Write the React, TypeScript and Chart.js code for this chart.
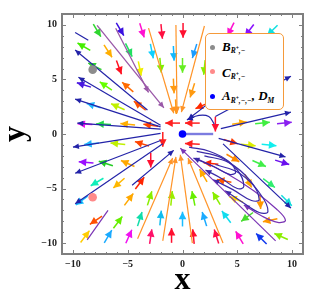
import React, { useEffect, useRef } from 'react';
import { Chart, registerables } from 'chart.js';

Chart.register(...registerables);

// ---------------- data ----------------
const AXIS_MIN = -11;
const AXIS_MAX = 11;
const TICK_VALUES = [-10, -5, 0, 5, 10];
const MINOR_TICKS = [-10, -9, -8, -7, -6, -5, -4, -3, -2, -1, 0, 1, 2, 3, 4, 5, 6, 7, 8, 9, 10];

// critical points
const pointNames = ['A', 'B', 'C'];
const pointX = [0, -8.2, -8.2];
const pointY = [0, 5.9, -5.8];

// field arrows: centre and direction
const arrowX = [
  -7.8, -5.7, -3.7, -1.9, 0.05, 4.4, 6.1, 8.2,
  -9.0, -6.8, -4.9, -2.8, -0.8, 1.1,
  -8.0, -5.8, -3.9, -2.0, 0.0, 2.0,
  -9.0, -7.0, -5.0, -0.8, -0.6, 0.9, 1.8,
  -8.1, -5.9, -3.9,
  -8.9, -7.2, -5.0, -2.9, -0.9, 0.9, 3.0, 5.2, 7.3, 9.3,
  -1.8, 0.9, 4.4,
  6.0, 7.9, 4.6, 2.6, 7.0, 9.1, 3.8, 6.0, 7.9, 4.9, 7.1, 9.5, 5.9, 8.0, 9.0, 7.2, 5.2, 3.1, 1.0, 4.0, 2.0, 0.0, 1.0, 3.1, 1.9,
  -8.3, -5.9, -3.7, -2.9, -8.8, -7.0, -5.0, -7.8, -5.8, -3.9, -9.2, -4.9, -3.0, -1.0, -7.9, -5.9, -3.9, -2.0, -8.9, -6.8, -4.9, -2.9, -1.0,
];
const arrowY = [
  9.5, 9.6, 9.5, 9.4, 9.5, 9.6, 9.5, 9.5,
  8.0, 7.6, 7.7, 7.6, 7.4, 7.6,
  6.2, 6.1, 6.0, 6.3, 6.3, 6.1,
  4.5, 4.4, 4.3, 4.4, 2.5, 4.0, 2.6,
  2.6, 2.5, 2.6,
  0.9, 0.9, 0.9, 0.8, 1.0, 1.0, 0.9, 1.0, 1.0, 1.0,
  -0.5, -0.9, -0.7,
  -1.0, -1.0, -2.2, -2.7, -2.7, -2.6, -4.3, -4.3, -4.5, -6.0, -6.2, -6.1, -7.6, -7.9, -9.4, -9.6, -9.5, -9.4, -9.4, -7.6, -7.8, -7.8, -5.9, -5.9, -3.8,
  -0.9, -0.9, -0.9, -2.4, -2.6, -2.7, -2.7, -4.4, -4.5, -4.5, -6.1, -6.0, -5.9, -5.9, -7.9, -8.1, -7.8, -7.7, -9.4, -9.4, -9.4, -9.4, -9.3,
];
const arrowU = [
  0.5, 0.5, 0.3, 0.1, 0, -0.45, -0.6, -0.7,
  -0.85, 0.55, 0.45, 0.2, 0.05, -0.3,
  -0.9, 0.35, 0.2, 0.1, 0, -0.1,
  -0.95, -0.8, -0.75, 0.05, 0.05, -0.3, -0.9,
  -0.95, -0.9, -0.8,
  -1, -1, -1, -1, -1, -1, 0, 1, 1, 1,
  0, -1, 0.95,
  1, 1, 0.85, -1, 0.9, 0.95, -1, 0.45, 0.8, -0.9, 0.05, 0.7, -0.8, -0.95, -0.9, -0.7, -0.5, -0.3, -0.1, -0.6, -0.3, 0, -0.2, -0.5, -0.5,
  -1, -1, -0.95, 0, -1, -0.95, -0.9, -0.85, -0.75, 0.6, -0.8, 0.6, 0.3, 0.1, -0.8, 0.6, 0.3, 0.1, 0.6, 0.5, 0.4, 0.15, 0,
];
const arrowV = [
  -0.85, -0.85, -0.95, -1, -1, -0.9, -0.8, -0.7,
  0.5, -0.85, -0.9, -1, -1, -0.95,
  0.45, -0.95, -1, -1, -1, -1,
  0.3, 0.55, 0.65, -1, -1, -0.95, -0.4,
  0.3, 0.4, 0.6,
  0.05, 0.05, 0.1, 0.15, 0, 0, -1, 0.15, 0.1, 0.1,
  -1, 0.05, -0.3,
  -0.1, -0.1, -0.5, 0.1, -0.4, -0.3, 0.2, -0.9, -0.6, 0.35, -1, -0.7, -0.6, -0.2, 0.4, 0.7, 0.85, 0.95, 1, 0.8, 0.95, 1, 0.98, 0.85, 0.85,
  -0.1, 0.1, 0.3, -1, 0.1, 0.3, 0.4, -0.5, -0.65, 0.8, -0.6, 0.8, 0.95, 1, -0.55, 0.8, 0.95, 1, 0.8, 0.85, 0.9, 1, 1,
];

// streamlines
const streamX = [
  [-3.2, -9.8], [-2.0, -9.5], [-2.0, -9.8], [-2.0, -9.6], [-8.6, -9.8],
  [-2.0, -10.0], [-2.0, -9.8], [-1.8, -9.8], [-4.6, -0.8],
  [3.3, 9.4], [3.7, 9.9], [3.5, 9.9], [3.0, 9.9], [4.5, 2.1, 0.5], [2.9, 2.4, 1.5, 0.4],
  [-7.8, -1.7], [-6.1, -3.1], [8.5, -0.2], [-8.7, -6.8],
  [-3.1, -0.8], [-0.6, -0.5], [2.0, -0.1], [-4.1, -0.9], [-1.8, -0.6], [0.9, -0.2], [3.7, 0.5],
  [2.8, 0.3],
  [0.6, 2.5, 4.2, 4.85, 4.3, 2.9, 1.0],
  [1.3, 3.4, 5.0, 5.6, 5.0, 3.6, 2.1],
  [2.0, 4.2, 6.2, 7.0, 6.3, 4.6, 2.8],
  [3.0, 5.2, 7.1, 7.8, 7.0, 5.4, 3.9],
  [1.2, 4.0, 6.5, 8.6, 9.4, 8.7, 7.2, 5.6],
];
const streamY = [
  [2.2, 7.7], [0.8, 5.2], [0.65, 3.2], [0.45, 1.0], [8.6, 9.3],
  [0.05, -1.2], [-0.6, -3.6], [-0.9, -6.4], [-4.7, -1.5],
  [-0.4, -2.1], [-0.9, -6.8], [0.5, 2.0], [1.6, 5.3], [4.8, 2.6, 1.35], [0.9, 1.6, 1.7, 1.3],
  [9.95, 2.4], [9.7, 3.8], [-9.8, -1.3], [-9.7, -7.0],
  [9.7, 1.9], [10.0, 1.9], [9.9, 2.0], [-9.6, -2.2], [-9.8, -2.1], [-10.0, -1.9], [-10.0, -2.2],
  [0, 0],
  [-1.2, -1.6, -2.5, -3.5, -3.7, -3.0, -2.2],
  [-1.6, -2.1, -3.3, -4.8, -5.0, -4.1, -3.3],
  [-2.0, -2.6, -4.3, -6.0, -6.1, -5.1, -4.2],
  [-2.8, -3.6, -5.5, -7.1, -7.2, -6.2, -5.2],
  [-2.2, -3.6, -5.2, -6.9, -7.9, -8.1, -7.5, -6.5],
];
const streamKind = [
  'blue', 'blue', 'blue', 'blue', 'blue',
  'blue', 'blue', 'blue', 'blue',
  'blue', 'blue', 'blue', 'blue', 'blue', 'blue',
  'mauve', 'mauve', 'violet', 'violet',
  'orange', 'orange', 'orange', 'orange', 'orange', 'orange', 'orange',
  'pale',
  'indigo', 'indigo', 'indigo', 'indigo', 'violet',
];
const streamHead = [
  true, true, true, true, false,
  true, true, true, true,
  true, true, true, true, true, true,
  true, true, true, false,
  true, true, true, true, true, true, true,
  false,
  true, true, true, true, true,
];

// ---------------- styles ----------------
const ARROW_COLORS = [
  '#2fd62f', '#3a10e0', '#ff10d0', '#ff1040', '#ff1030', '#ff10d0', '#8a10ff', '#10e0e0',
  '#44ee00', '#ffae00', '#20e060', '#10d0ff', '#10b8ff', '#1a9cff',
  '#30d030', '#ff1020', '#f0f000', '#80ee00', '#66ee20', '#88ee00',
  '#4a18e0', '#66ff00', '#ff6a00', '#ff9a10', '#ff9a10', '#ff9a10', '#ff2a00',
  '#20b8ff', '#c0f000', '#ff5000',
  '#f010f0', '#20d848', '#ffae00', '#ff4000', '#ff2020', '#ff2020', '#ff1030', '#ffa800', '#40ee40', '#8a20f0',
  '#ff2020', '#ff2020', '#ff3a00',
  '#dcee00', '#10eeee', '#ff8a00', '#ff2400', '#40ee48', '#6a10ee', '#ff5800', '#ffa800', '#30ee70', '#ffdc00', '#ff9800', '#10dcdc', '#48dc30', '#ff9800', '#8aee00', '#1038ee', '#ff10d0', '#ff1048', '#ff1030', '#10dcee', '#1aaaff', '#1abcff', '#66ee00', '#8aee00', '#ffa800',
  '#20b8ff', '#c0f000', '#ff4400', '#ff1030', '#9a10ff', '#22cc22', '#ffa800', '#10eebb', '#ffb800', '#ff2400', '#10bcff', '#ffa800', '#8aee00', '#9aee00', '#ff5000', '#66ee00', '#10ddaa', '#10bcee', '#ffcc00', '#1aaaff', '#f010f0', '#ff1068', '#ff1030',
];
const STREAM_STYLE: Record<string, { color: string; width: number }> = {
  blue: { color: '#2323a8', width: 1.2 },
  mauve: { color: '#9a58a8', width: 1.3 },
  violet: { color: '#7a34b4', width: 1.2 },
  orange: { color: '#ff9428', width: 1.2 },
  pale: { color: '#7c7ce0', width: 2.4 },
  indigo: { color: '#3a2aa8', width: 1.2 },
};
const POINT_COLORS = ['#0000ff', '#8c8c8c', '#ff8a8a'];
const POINT_RADIUS = [3.8, 4.3, 4.3];
const ARROW_LEN = 1.35;
const FONT = '"Liberation Serif", "Times New Roman", serif';
const FRAME_COLOR = '#7f7f7f';

const fmt = (v: number) => (v < 0 ? '\u2212' + Math.abs(v) : String(v));

export default function App() {
  const ref = useRef<HTMLCanvasElement>(null);

  useEffect(() => {
    const canvas = ref.current!;
    const heads: ({ len: number; half: number; color: string } | null)[] = [];
    const datasets: any[] = [];

    for (let i = 0; i < pointX.length; i++) {
      datasets.push({
        label: pointNames[i],
        data: [{ x: pointX[i], y: pointY[i] }],
        pointRadius: POINT_RADIUS[i],
        pointBackgroundColor: POINT_COLORS[i],
        pointBorderWidth: 0,
        showLine: false,
      });
      heads.push(null);
    }
    for (let i = 0; i < streamX.length; i++) {
      const st = STREAM_STYLE[streamKind[i]];
      datasets.push({
        data: streamX[i].map((x, j) => ({ x, y: streamY[i][j] })),
        showLine: true,
        borderColor: st.color,
        borderWidth: st.width,
        pointRadius: 0,
        tension: streamX[i].length > 2 ? 0.4 : 0,
      });
      heads.push(streamHead[i] ? { len: 6, half: 2.8, color: st.color } : null);
    }
    for (let i = 0; i < arrowX.length; i++) {
      const n = Math.hypot(arrowU[i], arrowV[i]) || 1;
      const hx = (arrowU[i] / n) * ARROW_LEN / 2;
      const hy = (arrowV[i] / n) * ARROW_LEN / 2;
      datasets.push({
        data: [
          { x: arrowX[i] - hx, y: arrowY[i] - hy },
          { x: arrowX[i] + hx, y: arrowY[i] + hy },
        ],
        showLine: true,
        borderColor: ARROW_COLORS[i],
        borderWidth: 1.5,
        pointRadius: 0,
      });
      heads.push({ len: 7.5, half: 3.8, color: ARROW_COLORS[i] });
    }

    const headPlugin = {
      id: 'heads',
      afterDatasetDraw(chart: any, args: any) {
        const h = heads[args.index];
        if (!h) return;
        const pts = args.meta.data as any[];
        const n = pts.length;
        if (n < 2) return;
        const p = pts[n - 1];
        let qx = pts[n - 2].x;
        let qy = pts[n - 2].y;
        if (p.cp1x !== undefined && Math.hypot(p.x - p.cp1x, p.y - p.cp1y) > 0.5) {
          qx = p.cp1x;
          qy = p.cp1y;
        }
        const a = Math.atan2(p.y - qy, p.x - qx);
        const ctx = chart.ctx;
        const ca = chart.chartArea;
        ctx.save();
        ctx.beginPath();
        ctx.rect(ca.left, ca.top, ca.right - ca.left, ca.bottom - ca.top);
        ctx.clip();
        ctx.translate(p.x, p.y);
        ctx.rotate(a);
        ctx.beginPath();
        ctx.moveTo(0, 0);
        ctx.lineTo(-h.len, h.half);
        ctx.lineTo(-h.len, -h.half);
        ctx.closePath();
        ctx.fillStyle = h.color;
        ctx.fill();
        ctx.restore();
      },
    };

    const framePlugin = {
      id: 'frame',
      afterDraw(chart: any) {
        const ctx = chart.ctx;
        const { left, right, top, bottom } = chart.chartArea;
        const sx = chart.scales.x;
        const sy = chart.scales.y;
        ctx.save();
        ctx.strokeStyle = FRAME_COLOR;
        ctx.lineWidth = 1;
        ctx.beginPath();
        for (const v of MINOR_TICKS) {
          const major = TICK_VALUES.includes(v);
          const len = major ? 4 : 2;
          const px = Math.round(sx.getPixelForValue(v)) + 0.5;
          const py = Math.round(sy.getPixelForValue(v)) + 0.5;
          ctx.moveTo(px, bottom); ctx.lineTo(px, bottom - len);
          ctx.moveTo(px, top); ctx.lineTo(px, top + len);
          ctx.moveTo(left, py); ctx.lineTo(left + len, py);
          ctx.moveTo(right, py); ctx.lineTo(right - len, py);
        }
        ctx.stroke();
        ctx.lineWidth = 2;
        ctx.strokeRect(left, top, right - left, bottom - top);
        ctx.restore();
      },
    };

    const tickFont = { family: FONT, size: 10, weight: 'bold' as const };
    const chart = new Chart(canvas, {
      type: 'scatter',
      data: { datasets },
      options: {
        animation: false,
        responsive: false,
        maintainAspectRatio: false,
        events: [],
        layout: { padding: { top: 14, right: 13, left: 0, bottom: 0 } },
        plugins: { legend: { display: false }, tooltip: { enabled: false } },
        scales: {
          x: {
            type: 'linear',
            min: AXIS_MIN,
            max: AXIS_MAX,
            grid: { display: false, drawTicks: false },
            border: { display: false },
            ticks: { font: tickFont, color: '#222', padding: 4, autoSkip: false, maxRotation: 0, callback: (v: any) => fmt(Number(v)) },
            title: { display: true, text: 'x', color: '#000', font: { family: FONT, size: 32, weight: 'bold', lineHeight: 1 }, padding: { top: 0, bottom: 9.5 } },
            afterBuildTicks: (s: any) => { s.ticks = TICK_VALUES.map((value) => ({ value })); },
            afterFit: (s: any) => { s.height = 52; },
          },
          y: {
            type: 'linear',
            min: AXIS_MIN,
            max: AXIS_MAX,
            grid: { display: false, drawTicks: false },
            border: { display: false },
            ticks: { font: tickFont, color: '#222', padding: 5, autoSkip: false, callback: (v: any) => fmt(Number(v)) },
            title: { display: true, text: 'y', color: '#000', font: { family: FONT, size: 32, weight: 'bold', lineHeight: 1 }, padding: { top: 0, bottom: 0 } },
            afterBuildTicks: (s: any) => { s.ticks = TICK_VALUES.map((value) => ({ value })); },
            afterFit: (s: any) => { s.width = 62; },
          },
        },
      } as any,
      plugins: [headPlugin, framePlugin],
    });
    return () => chart.destroy();
  }, []);

  const rowStyle: React.CSSProperties = {
    position: 'absolute',
    left: 222,
    fontFamily: FONT,
    fontSize: 13,
    lineHeight: '13px',
    fontWeight: 'bold',
    fontStyle: 'italic',
    color: '#000',
    whiteSpace: 'nowrap',
  };
  const sub: React.CSSProperties = { fontSize: 7.5, position: 'relative', top: 2.5 };
  const sup: React.CSSProperties = { fontSize: 5.5, position: 'relative', top: -3 };
  const dot = (top: number, color: string): React.CSSProperties => ({
    position: 'absolute', left: 210, top, width: 5, height: 5, borderRadius: '50%', background: color,
  });

  return (
    <div style={{ position: 'fixed', left: 0, top: 0, width: 316, height: 306, background: '#fff' }}>
      <canvas ref={ref} width={316} height={306} style={{ position: 'absolute', left: 0, top: 0 }} />
      <div style={{ position: 'absolute', left: 205, top: 33, width: 79, height: 77, boxSizing: 'border-box', border: '1.5px solid #f59a3a', borderRadius: 5, background: '#fff' }} />
      <div style={dot(44.5, POINT_COLORS[1])} />
      <div style={dot(69, POINT_COLORS[2])} />
      <div style={dot(93.5, POINT_COLORS[0])} />
      <div style={{ ...rowStyle, top: 39.8 }}>
        B<span style={sub}>R<span style={sup}>+</span>,−</span>
      </div>
      <div style={{ ...rowStyle, top: 65.8 }}>
        C<span style={sub}>R<span style={sup}>+</span>,−</span>
      </div>
      <div style={{ ...rowStyle, top: 89.1 }}>
        A<span style={sub}>R<span style={sup}>+</span>,−,−</span>, D<span style={sub}>M</span>
      </div>
    </div>
  );
}
